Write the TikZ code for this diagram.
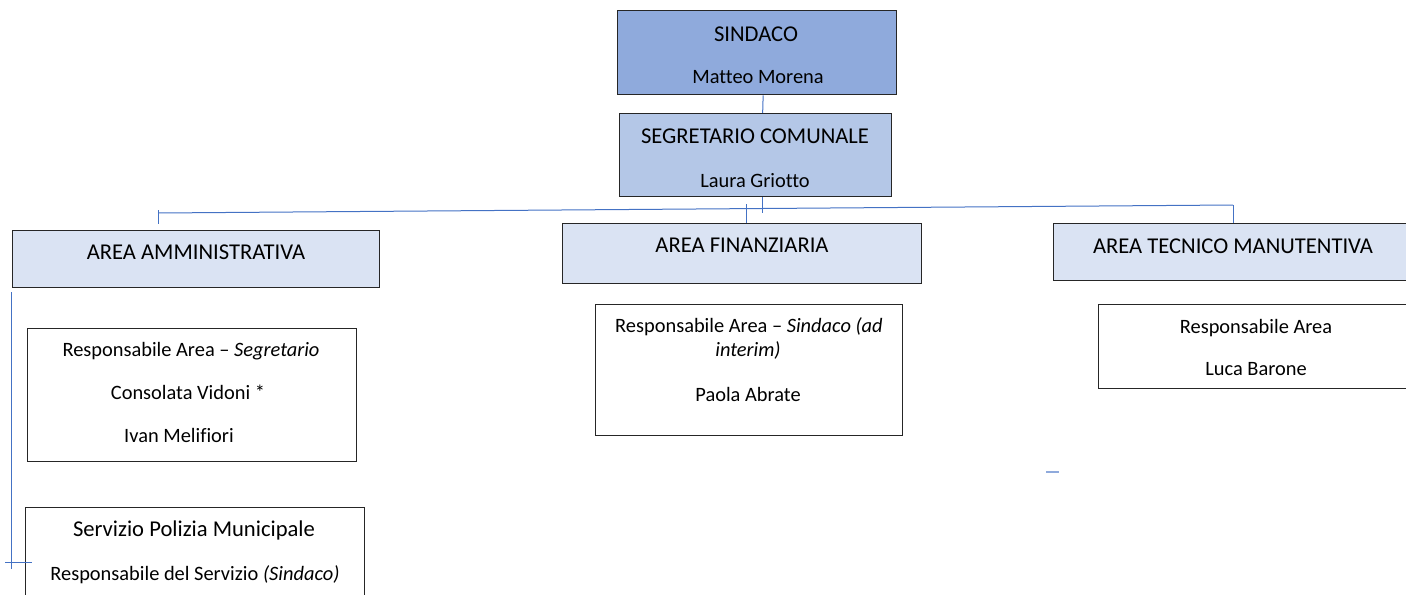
\documentclass[tikz,border=0pt]{standalone}
\usepackage{fontspec}
\setmainfont{Carlito}[Ligatures=NoCommon]
\usetikzlibrary{positioning}
\definecolor{chiefBlue}{HTML}{8FAADC}
\definecolor{secBlue}{HTML}{B4C7E7}
\definecolor{areaBlue}{HTML}{DAE3F3}
\definecolor{lineBlue}{HTML}{4472C4}
\definecolor{frameGrey}{HTML}{262626}

\begin{document}
\begin{tikzpicture}[x=0.5pt, y=-0.5pt,
    box/.style={draw=frameGrey, line width=0.65pt, inner sep=0pt, anchor=north west},
    link/.style={draw=lineBlue, line width=0.5pt},
    big/.style={anchor=base, inner sep=0pt, font=\fontsize{11.3}{13}\selectfont},
    txt/.style={anchor=base, inner sep=0pt, font=\fontsize{10.2}{12}\selectfont}]
    \clip (0,0) rectangle (1406,594);

    % Vertici
    \node[box, fill=chiefBlue, minimum width=139.5pt, minimum height=42pt] (sind) at (617,10) {};
    \node[box, fill=secBlue, minimum width=136pt, minimum height=41.5pt] (segr) at (619,113) {};
    \node[big] (sindT) at (756,41) {SINDACO};
    \node[txt] (sindN) at (758,83) {Matteo Morena};
    \node[big] (segrT) at (755,143) {SEGRETARIO COMUNALE};
    \node[txt] (segrN) at (755,187) {Laura Griotto};

    % Aree
    \node[box, fill=areaBlue, minimum width=183.5pt, minimum height=28.5pt] (amm) at (12,230) {};
    \node[box, fill=areaBlue, minimum width=179.5pt, minimum height=30pt] (fin) at (562,223) {};
    \node[box, fill=areaBlue, minimum width=179pt, minimum height=28.5pt] (tec) at (1053,223) {};
    \node[big] (ammT) at (196,259) {AREA AMMINISTRATIVA};
    \node[big] (finT) at (742,252) {AREA FINANZIARIA};
    \node[big] (tecT) at (1233,253) {AREA TECNICO MANUTENTIVA};

    % Responsabili
    \node[box, minimum width=164.5pt, minimum height=66.5pt] (ammR) at (27,328) {};
    \node[box, minimum width=153.5pt, minimum height=65.5pt] (finR) at (595,304) {};
    \node[box, minimum width=158pt, minimum height=42pt] (tecR) at (1098,304) {};
    \node[box, minimum width=169.5pt, minimum height=52pt] (pol) at (25,507) {};
    \node[txt] (ammR1) at (191,356) {Responsabile Area -- \textit{Segretario}};
    \node[txt] (ammR2) at (188,399) {Consolata Vidoni *};
    \node[txt] (ammR3) at (179,442) {Ivan Melifiori};
    \node[txt] (finR1) at (749,332) {Responsabile Area -- \textit{Sindaco (ad}};
    \node[txt] (finR2) at (748,356) {\textit{interim)}};
    \node[txt] (finR3) at (748,401) {Paola Abrate};
    \node[txt] (tecR1) at (1256,333) {Responsabile Area};
    \node[txt] (tecR2) at (1256,375) {Luca Barone};
    \node[big] (polT) at (194,536) {Servizio Polizia Municipale};
    \node[txt] (polR) at (195,580) {Responsabile del Servizio \textit{(Sindaco)}};

    % Collegamenti
    \coordinate (busL) at (158,213);
    \coordinate (busR) at (1233,205);
    \draw[link] ([xshift=3pt]sind.south) -- ([xshift=3.5pt]segr.north);
    \draw[link] ([xshift=3.5pt]segr.south) -- ++(0,16);
    \draw[link] (busL) -- (busR);
    \draw[link] (busR) -- (busR |- tec.north);
    \draw[link] ([xshift=2.25pt]fin.north) -- ++(0,-19);
    \draw[link] ([yshift=1.5pt]busL) -- ++(0,14);
    \draw[link] ([shift={(-0.5pt,-2pt)}]amm.south west) -- ++(0,277) coordinate (polL);
    \draw[link] ([xshift=-3pt,yshift=3.5pt]polL) -- ++(27,0);
    \draw[chiefBlue, line width=0.6pt] (1046,472) -- (1059,472);
\end{tikzpicture}
\end{document}
